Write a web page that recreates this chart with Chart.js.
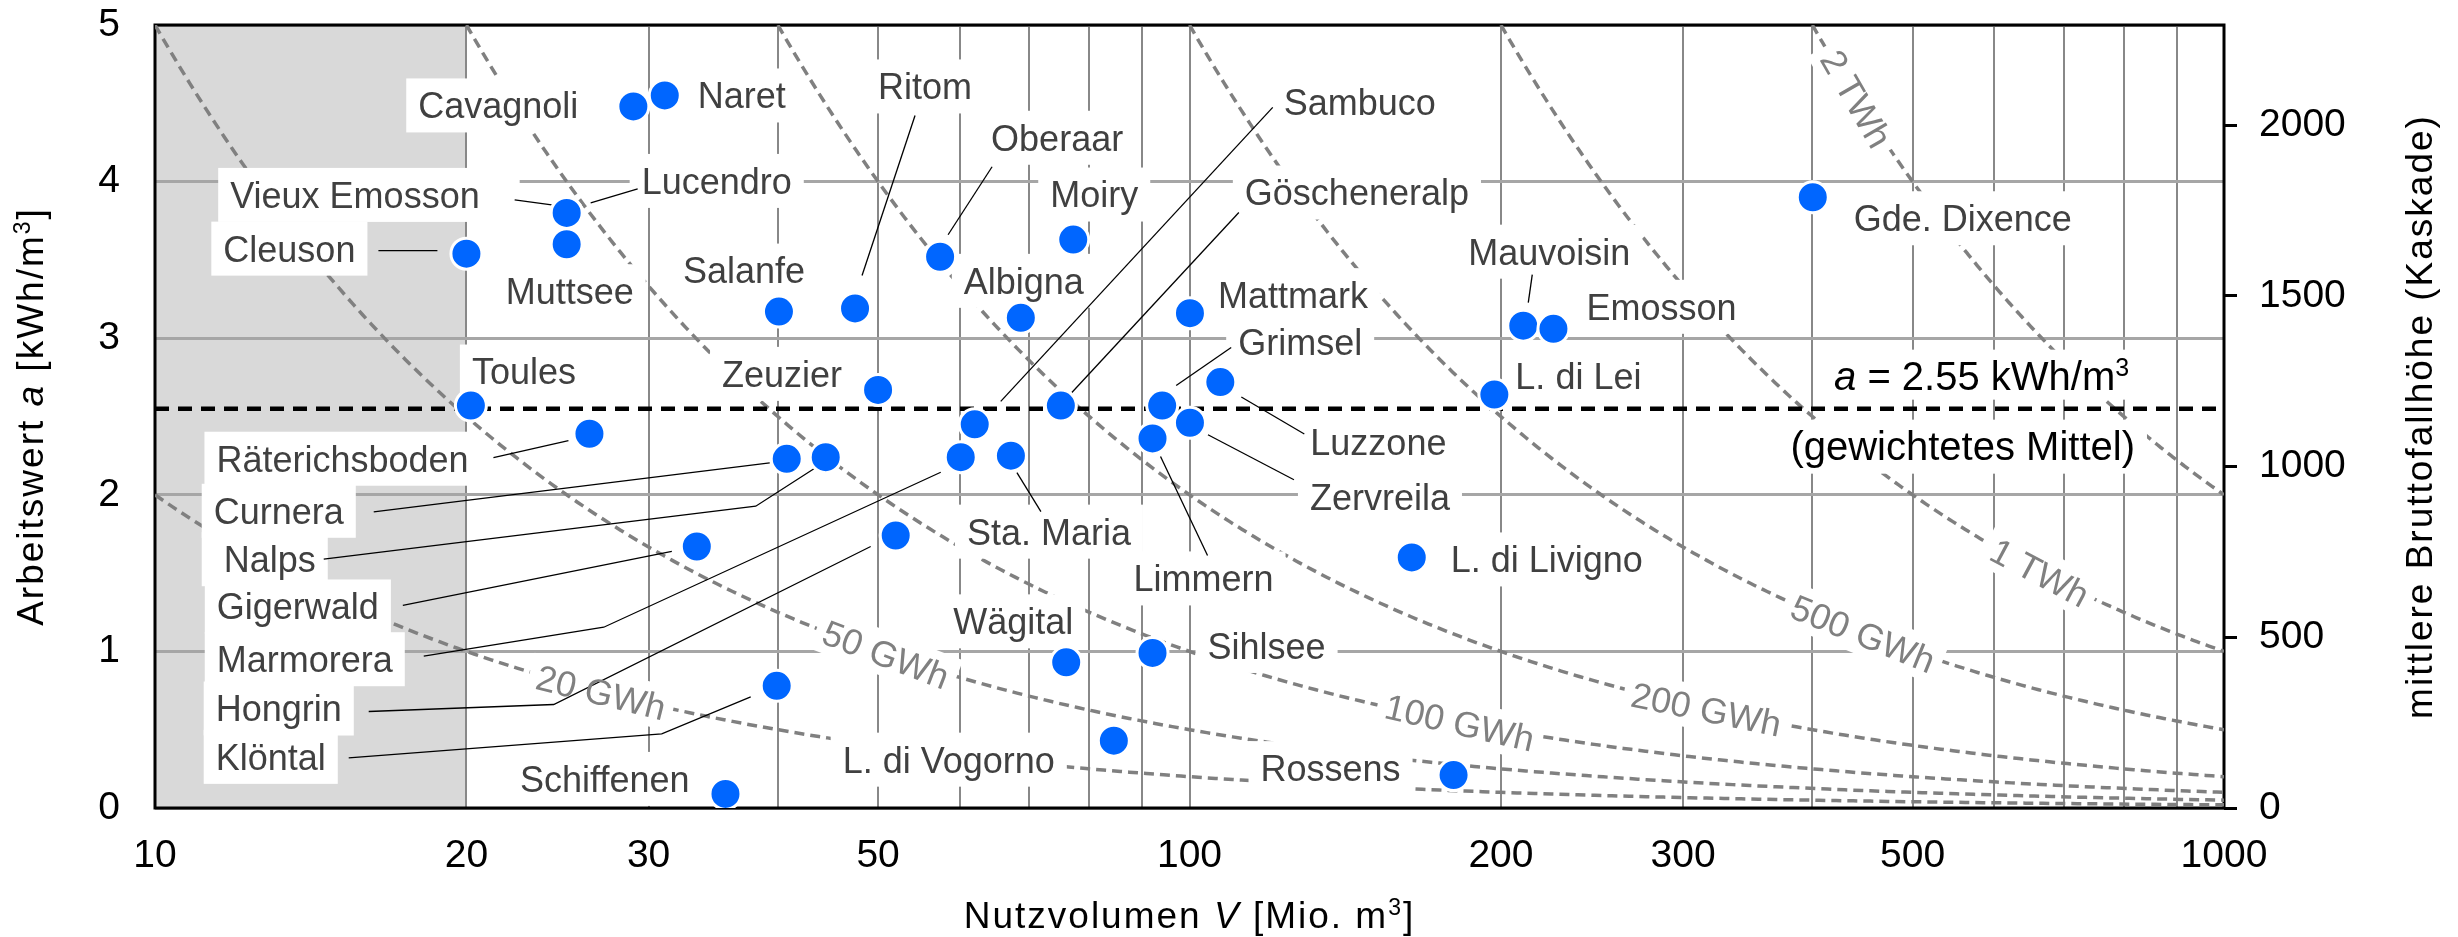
<!DOCTYPE html>
<html>
<head>
<meta charset="utf-8">
<script src="https://cdn.jsdelivr.net/npm/chart.js@4.4.1/dist/chart.umd.min.js"></script>
<style>
  html, body { margin: 0; padding: 0; background: #fff; }
  canvas { display: block; }
</style>
</head>
<body>
<canvas id="chart" width="2458" height="937"></canvas>
<script>
// ---- Data -----------------------------------------------------------------
// Reservoirs: usable volume V [Mio. m3] and energy equivalent a [kWh/m3]
const reservoirs = ['Cavagnoli', 'Naret', 'Vieux Emosson', 'Lucendro', 'Muttsee', 'Cleuson',
  'Salanfe', 'Toules', 'Räterichsboden', 'Curnera', 'Nalps', 'Gigerwald', 'Marmorera',
  'Hongrin', 'Klöntal', 'Schiffenen', 'Ritom', 'Oberaar', 'Moiry', 'Albigna', 'Sambuco',
  'Göscheneralp', 'Mattmark', 'Grimsel', 'Luzzone', 'Zervreila', 'Sta. Maria', 'Limmern',
  'Mauvoisin', 'Emosson', 'L. di Lei', 'Gde. Dixence', 'L. di Livigno', 'Wägital',
  'Sihlsee', 'L. di Vogorno', 'Rossens', 'Zeuzier'];
const volume = [29.0, 31.1, 25.0, 25.0, 25.0, 20.0,
  40.1, 20.2, 26.3, 40.8, 44.5, 33.4, 60.1,
  52.0, 39.9, 35.6, 47.5, 57.4, 77.2, 68.7, 62.0,
  75.1, 100.1, 94.1, 107.1, 100.1, 67.2, 92.1,
  210.2, 224.8, 197.1, 400.4, 164.0, 76.0,
  92.1, 84.5, 180.0, 50.0];
const workValue = [4.48, 4.55, 3.80, 3.80, 3.60, 3.54,
  3.17, 2.57, 2.39, 2.23, 2.24, 1.67, 2.24,
  1.74, 0.78, 0.09, 3.19, 3.52, 3.63, 3.13, 2.45,
  2.57, 3.16, 2.57, 2.72, 2.46, 2.25, 2.36,
  3.08, 3.06, 2.64, 3.90, 1.60, 0.93,
  0.99, 0.43, 0.21, 2.67];

// Lines of constant storable energy E = a * V  [GWh]
const isoEnergyGWh = [20, 50, 100, 200, 500, 1000, 2000];
const isoEnergyLabels = ['20 GWh', '50 GWh', '100 GWh', '200 GWh', '500 GWh', '1 TWh', '2 TWh'];

// Weighted mean energy equivalent
const meanWorkValue = 2.55;

// Volume range below the scope (shaded)
const shadedRange = [10, 20];

// Axis ticks
const xGridValues = [10, 20, 30, 40, 50, 60, 70, 80, 90, 100, 200, 300, 400, 500, 600, 700, 800, 900, 1000];
const xTickLabels = [10, 20, 30, 50, 100, 200, 300, 500, 1000];
const headTicks = [0, 500, 1000, 1500, 2000];

// Head (m) per kWh/m3 for the secondary axis: h = a * 3600 / (g * eta), eta = 0.8
const metresPerKWh = 3600 / (9.81 * 0.8);

// ---- Layout of annotations (pixel offsets from each dot) -------------------
const labelLayout = {
  'Cavagnoli':      { align: 'right',  dx: -55,  dy: -1 },
  'Naret':          { align: 'left',   dx: 33,   dy: 0 },
  'Vieux Emosson':  { align: 'right',  dx: -87,  dy: -18, leader: [[-52, -13], [-15, -8]], padR: 40 },
  'Lucendro':       { align: 'left',   dx: 75,   dy: -32, leader: [[71, -24], [24, -10]] },
  'Muttsee':        { align: 'center', dx: 3,    dy: 47 },
  'Cleuson':        { align: 'right',  dx: -111, dy: -5,  leader: [[-88, -3], [-29, -3]] },
  'Salanfe':        { align: 'center', dx: -35,  dy: -41 },
  'Toules':         { align: 'left',   dx: 1,    dy: -34 },
  'Räterichsboden': { align: 'left',   dx: -373, dy: 25,  leader: [[-96, 24], [-21, 7]] },
  'Curnera':        { align: 'left',   dx: -573, dy: 52,  leader: [[-413, 53], [-17, 4]] },
  'Nalps':          { align: 'left',   dx: -602, dy: 102, leader: [[-502, 102], [-70, 49], [-11, 11]], padL: 22 },
  'Gigerwald':      { align: 'left',   dx: -480, dy: 60,  leader: [[-294, 59], [-25, 5]] },
  'Marmorera':      { align: 'left',   dx: -744, dy: 202, leader: [[-537, 199], [-357, 170], [-20, 15]] },
  'Hongrin':        { align: 'left',   dx: -680, dy: 173, leader: [[-527, 176], [-342, 169], [-25, 11]] },
  'Klöntal':        { align: 'left',   dx: -561, dy: 71,  leader: [[-428, 72], [-115, 48], [-26, 11]] },
  'Schiffenen':     { align: 'right',  dx: -36,  dy: -15 },
  'Ritom':          { align: 'left',   dx: 23,   dy: -222, leader: [[60, -193], [7, -33]] },
  'Oberaar':        { align: 'left',   dx: 51,   dy: -119, leader: [[52, -90], [8, -22]] },
  'Moiry':          { align: 'center', dx: 21,   dy: -45 },
  'Albigna':        { align: 'center', dx: 3,    dy: -37 },
  'Sambuco':        { align: 'left',   dx: 309,  dy: -322, leader: [[298, -317], [26, -23]] },
  'Göscheneralp':   { align: 'left',   dx: 184,  dy: -213, leader: [[178, -193], [11, -13]] },
  'Mattmark':       { align: 'left',   dx: 28,   dy: -18 },
  'Grimsel':        { align: 'left',   dx: 76,   dy: -63, leader: [[69, -58], [14, -20]] },
  'Luzzone':        { align: 'left',   dx: 90,   dy: 60,  leader: [[84, 52], [21, 15]] },
  'Zervreila':      { align: 'left',   dx: 120,  dy: 74,  leader: [[18, 12], [104, 57]] },
  'Sta. Maria':     { align: 'left',   dx: -44,  dy: 76,  leader: [[6, 17], [30, 56]] },
  'Limmern':        { align: 'left',   dx: -19,  dy: 140, leader: [[8, 18], [55, 117]] },
  'Mauvoisin':      { align: 'left',   dx: -55,  dy: -74, leader: [[9, -51], [5, -23]] },
  'Emosson':        { align: 'left',   dx: 33,   dy: -22 },
  'L. di Lei':      { align: 'left',   dx: 21,   dy: -18 },
  'Gde. Dixence':   { align: 'left',   dx: 41,   dy: 21 },
  'L. di Livigno':  { align: 'left',   dx: 39,   dy: 2 },
  'Wägital':        { align: 'center', dx: -53,  dy: -41 },
  'Sihlsee':        { align: 'left',   dx: 55,   dy: -7 },
  'L. di Vogorno':  { align: 'right',  dx: -59,  dy: 19 },
  'Rossens':        { align: 'right',  dx: -53,  dy: -7 },
  'Zeuzier':        { align: 'right',  dx: -36,  dy: -16 }
};

// Where each energy label sits along its curve (volume) and its tilt in degrees
const isoLabelLayout = [
  { v: 27.0,  rot: 14 },
  { v: 50.9,  rot: 21 },
  { v: 182.5, rot: 13 },
  { v: 316,   rot: 11.5 },
  { v: 448,   rot: 22 },
  { v: 664,   rot: 28 },
  { v: 441.5, rot: 60 }
];

const FONT = '"Liberation Sans", Arial, Helvetica, sans-serif';
const LABEL_SIZE = 36;
const PLOT_TOP = 25;

// ---- Helpers ---------------------------------------------------------------
function isoCurve(E) {
  const pts = [];
  const l0 = Math.log10(Math.max(10, E / 5));
  const l1 = 3;
  const n = 240;
  for (let k = 0; k <= n; k++) {
    const v = Math.pow(10, l0 + (l1 - l0) * k / n);
    pts.push({ x: v, y: E / v });
  }
  return pts;
}

function segFont(s, size) {
  const sz = s.sup ? Math.round(size * 0.62) : size;
  return (s.italic ? 'italic ' : '') + sz + 'px ' + FONT;
}
function richWidth(ctx, segs, size) {
  let w = 0;
  for (const s of segs) { ctx.font = segFont(s, size); w += ctx.measureText(s.t).width; }
  return w;
}
function drawRich(ctx, segs, x, y, size, align) {
  const w = richWidth(ctx, segs, size);
  let cx = align === 'center' ? x - w / 2 : (align === 'right' ? x - w : x);
  ctx.textAlign = 'left';
  ctx.textBaseline = 'alphabetic';
  for (const s of segs) {
    ctx.font = segFont(s, size);
    ctx.fillText(s.t, cx, s.sup ? y - size * 0.36 : y);
    cx += ctx.measureText(s.t).width;
  }
  return w;
}

const meanLabelTop = [{ t: 'a', italic: true }, { t: ' = 2.55 kWh/m' }, { t: '3', sup: true }];
const meanLabelBottom = [{ t: '(gewichtetes Mittel)' }];
const xTitle = [{ t: 'Nutzvolumen ' }, { t: 'V', italic: true }, { t: ' [Mio. m' }, { t: '3', sup: true }, { t: ']' }];
const yTitle = [{ t: 'Arbeitswert ' }, { t: 'a', italic: true }, { t: ' [kWh/m' }, { t: '3', sup: true }, { t: ']' }];
const y2Title = [{ t: 'mittlere Bruttofallhöhe (Kaskade)' }];

// ---- Annotation layer: label boxes, leader lines, texts ---------------------
function drawAnnotations(chart) {
  const ctx = chart.ctx;
  const xs = chart.scales.x, ys = chart.scales.y;
  const meta = chart.getDatasetMeta(0);
  ctx.save();

  // point labels
  ctx.font = LABEL_SIZE + 'px ' + FONT;
  const items = [];
  reservoirs.forEach((name, i) => {
    const L = labelLayout[name];
    if (!L) return;
    const el = meta.data[i];
    const w = ctx.measureText(name).width;
    const ax = el.x + L.dx, cy = el.y + L.dy;
    const left = L.align === 'left' ? ax : (L.align === 'right' ? ax - w : ax - w / 2);
    items.push({ name, left, w, cy, px: el.x, py: el.y, L });
  });

  // energy curve labels
  const isoItems = isoEnergyGWh.map((E, k) => {
    const p = isoLabelLayout[k];
    return {
      text: isoEnergyLabels[k],
      cx: xs.getPixelForValue(p.v),
      cy: ys.getPixelForValue(E / p.v),
      rot: p.rot * Math.PI / 180
    };
  });

  // mean value labels
  const yMean = ys.getPixelForValue(meanWorkValue);
  const topX = xs.getPixelForValue(583), topY = yMean - 33;
  const botX = xs.getPixelForValue(559), botY = yMean + 37;
  const topW = richWidth(ctx, meanLabelTop, 40);
  const botW = richWidth(ctx, meanLabelBottom, 40);

  // white backgrounds
  ctx.fillStyle = '#ffffff';
  items.forEach(it => {
    const pl = it.L.padL || 12, pr = it.L.padR || 12;
    ctx.fillRect(it.left - pl, it.cy - 27, it.w + pl + pr, 54);
  });
  ctx.font = LABEL_SIZE + 'px ' + FONT;
  isoItems.forEach(it => {
    const w = ctx.measureText(it.text).width;
    ctx.save();
    ctx.translate(it.cx, it.cy);
    ctx.rotate(it.rot);
    ctx.fillRect(-w / 2 - 8, -22, w + 16, 44);
    ctx.restore();
  });
  ctx.fillRect(topX - topW / 2 - 12, topY - 26, topW + 24, 50);
  ctx.fillRect(botX - botW / 2 - 12, botY - 26, botW + 24, 54);

  // leader lines
  ctx.strokeStyle = '#000000';
  ctx.lineWidth = 1.3;
  items.forEach(it => {
    const pts = it.L.leader;
    if (!pts) return;
    ctx.beginPath();
    pts.forEach((p, j) => {
      const X = it.px + p[0], Y = it.py + p[1];
      if (j === 0) ctx.moveTo(X, Y); else ctx.lineTo(X, Y);
    });
    ctx.stroke();
  });

  // texts
  ctx.textBaseline = 'alphabetic';
  ctx.textAlign = 'left';
  ctx.fillStyle = '#404040';
  ctx.font = LABEL_SIZE + 'px ' + FONT;
  items.forEach(it => ctx.fillText(it.name, it.left, it.cy + LABEL_SIZE * 0.358));

  ctx.fillStyle = '#808080';
  ctx.textAlign = 'center';
  isoItems.forEach(it => {
    ctx.save();
    ctx.translate(it.cx, it.cy);
    ctx.rotate(it.rot);
    ctx.fillText(it.text, 0, LABEL_SIZE * 0.358);
    ctx.restore();
  });

  ctx.fillStyle = '#000000';
  drawRich(ctx, meanLabelTop, topX, topY + 40 * 0.358, 40, 'center');
  drawRich(ctx, meanLabelBottom, botX, botY + 40 * 0.358, 40, 'center');
  ctx.restore();
}

const decor = {
  id: 'decor',
  beforeDraw(chart) {
    const { ctx, chartArea: a } = chart;
    const xs = chart.scales.x;
    ctx.save();
    ctx.fillStyle = '#ffffff';
    ctx.fillRect(0, 0, chart.width, chart.height);
    const x0 = xs.getPixelForValue(shadedRange[0]);
    const x1 = xs.getPixelForValue(shadedRange[1]);
    ctx.fillStyle = '#d9d9d9';
    ctx.fillRect(x0, a.top, x1 - x0, a.bottom - a.top);
    ctx.restore();
  },
  beforeDatasetsDraw(chart) {
    const { ctx, chartArea: a } = chart;
    ctx.save();
    ctx.strokeStyle = '#000000';
    ctx.lineWidth = 3;
    ctx.strokeRect(a.left, a.top, a.right - a.left, a.bottom - a.top);
    ctx.restore();
  },
  beforeDatasetDraw(chart, args) {
    if (args.index === 0) drawAnnotations(chart);
  },
  afterDraw(chart) {
    const { ctx, chartArea: a } = chart;
    ctx.save();
    ctx.fillStyle = '#000000';
    ctx.letterSpacing = '2px';
    drawRich(ctx, xTitle, (a.left + a.right) / 2, 928, 37, 'center');
    const midY = (a.top + a.bottom) / 2;
    ctx.save();
    ctx.translate(43, midY);
    ctx.rotate(-Math.PI / 2);
    drawRich(ctx, yTitle, 0, 0, 37, 'center');
    ctx.restore();
    ctx.save();
    ctx.translate(2432, midY);
    ctx.rotate(-Math.PI / 2);
    drawRich(ctx, y2Title, 0, 0, 37, 'center');
    ctx.restore();
    ctx.letterSpacing = '0px';
    ctx.restore();
  }
};

// Vertical axes: fixed widths, no extra label padding at the ends
function fixVertical(width) {
  return s => { s.width = width; s.paddingTop = 0; s.paddingBottom = 0; };
}

// ---- Chart -----------------------------------------------------------------
const datasets = [
  {
    type: 'scatter',
    label: 'Speicher',
    data: reservoirs.map((n, i) => ({ x: volume[i], y: workValue[i] })),
    pointRadius: 15.5,
    pointBackgroundColor: '#0066ff',
    pointBorderColor: '#ffffff',
    pointBorderWidth: 3,
    order: 0
  },
  {
    type: 'line',
    label: 'Mittel',
    data: [{ x: 10, y: meanWorkValue }, { x: 1000, y: meanWorkValue }],
    borderColor: '#000000',
    borderWidth: 4.5,
    borderDash: [14, 9],
    pointRadius: 0,
    fill: false,
    order: 1
  }
].concat(isoEnergyGWh.map((E, k) => ({
  type: 'line',
  label: isoEnergyLabels[k],
  data: isoCurve(E),
  borderColor: '#808080',
  borderWidth: 3.5,
  borderDash: [10, 6],
  pointRadius: 0,
  fill: false,
  tension: 0,
  order: 2
})));

const chart = new Chart(document.getElementById('chart'), {
  type: 'scatter',
  data: { datasets },
  options: {
    responsive: false,
    animation: false,
    devicePixelRatio: 1,
    events: [],
    layout: { padding: { top: PLOT_TOP, left: 0, right: 0, bottom: 0 } },
    plugins: { legend: { display: false }, title: { display: false }, tooltip: { enabled: false } },
    scales: {
      x: {
        type: 'logarithmic',
        position: 'bottom',
        min: 10,
        max: 1000,
        afterBuildTicks: s => { s.ticks = xGridValues.map(v => ({ value: v })); },
        afterFit: s => { s.height = 129; s.paddingLeft = 0; s.paddingRight = 0; },
        ticks: {
          autoSkip: false, maxRotation: 0, minRotation: 0,
          padding: 25, color: '#000000',
          font: { family: FONT, size: 39 },
          callback: v => (xTickLabels.includes(v) ? String(v) : '')
        },
        grid: { color: '#888888', lineWidth: 2, drawTicks: false },
        border: { display: false }
      },
      y: {
        position: 'left',
        min: 0,
        max: 5,
        afterFit: fixVertical(155),
        ticks: { stepSize: 1, padding: 35, color: '#000000', font: { family: FONT, size: 39 },
                 callback: v => String(v) },
        grid: { color: '#a6a6a6', lineWidth: 3, drawTicks: false },
        border: { display: false }
      },
      y2: {
        position: 'right',
        min: 0,
        max: 5 * metresPerKWh,
        afterBuildTicks: s => { s.ticks = headTicks.map(v => ({ value: v })); },
        afterFit: fixVertical(234),
        ticks: { padding: 22, color: '#000000', font: { family: FONT, size: 39 },
                 callback: v => String(v) },
        grid: { drawOnChartArea: false, drawTicks: true, tickLength: 13, color: '#000000', lineWidth: 3 },
        border: { display: false }
      }
    }
  },
  plugins: [decor]
});

// Keep the plot frame at its intended top edge whatever the label metrics add
const extraTop = chart.chartArea.top - PLOT_TOP;
if (Math.abs(extraTop) > 0.5) {
  chart.options.layout.padding.top = PLOT_TOP - extraTop;
  chart.update();
}
</script>
</body>
</html>
